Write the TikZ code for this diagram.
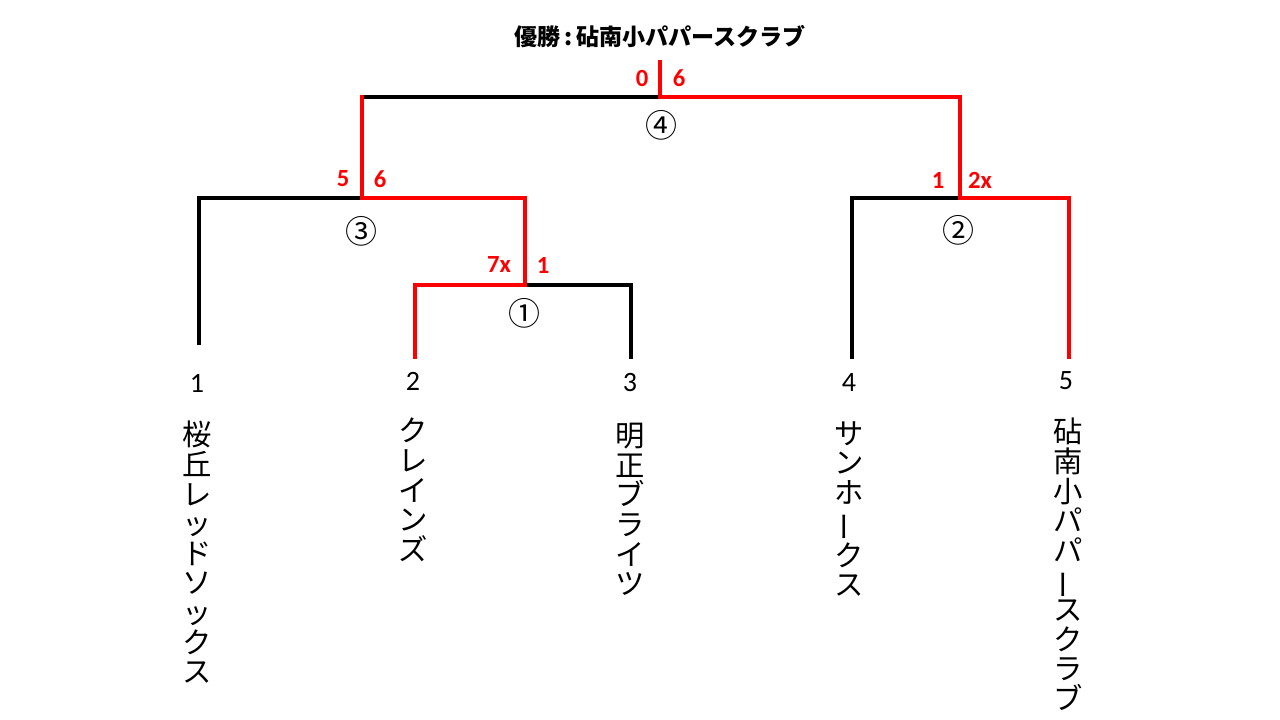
\documentclass[tikz,border=0pt]{standalone}
\usepackage{fontspec}
\usepackage{graphicx}
\newfontfamily\jp{Noto Sans CJK JP}
\newfontfamily\lat{Carlito}
\newcommand{\vbar}{\rotatebox[origin=c]{90}{ー}}
\begin{document}
\begin{tikzpicture}[x=0.75pt,y=-0.75pt,
  wire/.style={line width=3pt,black,line cap=rect},
  win/.style={line width=3pt,red,line cap=rect},
  team/.style={anchor=north,inner sep=0pt,align=center,font=\jp\fontsize{22}{22.2}\selectfont},
  num/.style={inner sep=0pt,font=\lat\fontsize{21}{21}\selectfont},
  score/.style={inner sep=0pt,text=red,font=\lat\bfseries\fontsize{18.5}{18.5}\selectfont},
  mnum/.style={inner sep=0pt,font=\jp\fontsize{24}{24}\selectfont},
  title/.style={inner sep=0pt,font=\jp\bfseries\fontsize{17.3}{17.3}\selectfont}]
\useasboundingbox (0,0) rectangle (1280,720);
% leaf tops
\coordinate (l1) at (199,343);
\coordinate (l2) at (415,357);
\coordinate (l3) at (631,357);
\coordinate (l4) at (852,357);
\coordinate (l5) at (1069,357);
% match 1
\coordinate (a1) at (415,285);
\coordinate (b1) at (631,285);
\coordinate (c1) at (525,285);
% match 3
\coordinate (a3) at (199,198);
\coordinate (b3) at (525,198);
\coordinate (c3) at (362,198);
% match 2
\coordinate (a2) at (852,198);
\coordinate (b2) at (1069,198);
\coordinate (c2) at (960,198);
% match 4
\coordinate (a4) at (362,97);
\coordinate (b4) at (960,97);
\coordinate (c4) at (660,97);
\coordinate (top) at (660,62);
% black lines
\draw[wire] (l1) -- (a3) -- (c3);
\draw[wire] (c1) -- (b1) -- (l3);
\draw[wire] (l4) -- (a2) -- (c2);
\draw[wire] (a4) -- (c4);
% red lines
\draw[win] (l2) -- (a1) -- (c1) -- (b3) -- (c3) -- (a4);
\draw[win] (l5) -- (b2) -- (c2) -- (b4) -- (c4) -- (top);
% title
\node[title] (ttl) at (660,37) {優勝\,:\,砧南小パパースクラブ};
% scores
\node[score] (s40) at (642,78) {0};
\node[score] (s46) at (679,78) {6};
\node[score] (s35) at (343,179) {5};
\node[score] (s36) at (380,179) {6};
\node[score] (s17) at (499,265) {7x};
\node[score] (s11) at (543,265) {1};
\node[score] (s21) at (938,180) {1};
\node[score] (s22) at (980,180) {2x};
% match numbers
\node[mnum] (m4) at (661,125) {④};
\node[mnum] (m3) at (361,231) {③};
\node[mnum] (m1) at (524,313) {①};
\node[mnum] (m2) at (958,230) {②};
% seed numbers
\node[num] (n1) at (197,383) {1};
\node[num] (n2) at (413,381) {2};
\node[num] (n3) at (630,383) {3};
\node[num] (n4) at (849,383) {4};
\node[num] (n5) at (1066,381) {5};
% team names
\node[team] (t1) at (197,421) {桜\\丘\\レ\\ッ\\ド\\ソ\\ッ\\ク\\ス};
\node[team] (t2) at (413,418) {ク\\レ\\イ\\ン\\ズ};
\node[team] (t3) at (630,423) {明\\正\\ブ\\ラ\\イ\\ツ};
\node[team] (t4) at (849,421) {サ\\ン\\ホ\\\vbar\\ク\\ス};
\node[team] (t5) at (1068,418) {砧\\南\\小\\パ\\パ\\\vbar\\ス\\ク\\ラ\\ブ};
\end{tikzpicture}
\end{document}
